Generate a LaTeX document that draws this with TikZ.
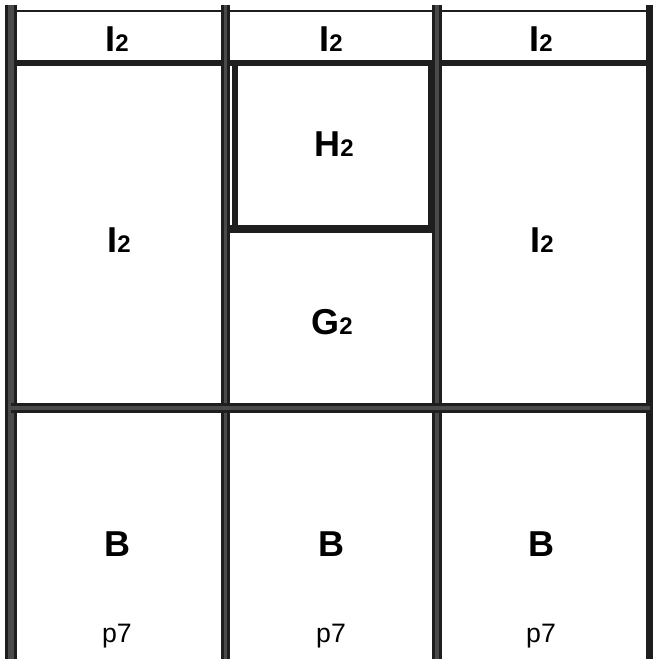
\documentclass[tikz,border=0pt]{standalone}
\usepackage{fontspec}
\setmainfont{Liberation Sans}
\usetikzlibrary{positioning}
\definecolor{bardark}{HTML}{1E1E1E}
\definecolor{barmid}{HTML}{4A4A4A}
\newcommand{\lbl}[2]{#1{\fontsize{18}{18}\selectfont #2}}

\begin{document}
\begin{tikzpicture}[x=0.75pt, y=-0.75pt,
    bar/.style={draw=bardark, line width=#1},
    dbar/.style={draw=bardark, double=barmid, double distance=#1, line width=2.2pt},
    lab/.style={anchor=base, font=\fontsize{27}{27}\selectfont\bfseries},
    foot/.style={anchor=base, font=\fontsize{20}{20}\selectfont}]
  \useasboundingbox (0,0) rectangle (654,659);
  % outer frame and top row
  \draw[bar=2.2pt] (11,11) -- (650,11);
  \draw[bar=3.8pt] (11,63) -- (650,63);
  \draw[dbar=4pt] (11,5) -- (11,659);
  \draw[bar=5.4pt] (649.5,5) -- (649.5,659);
  % columns
  \foreach \x in {225.5,437}
    \draw[dbar=2.6pt] (\x,5) -- (\x,659);
  \draw[dbar=2.4pt] (11,408) -- (650,408);
  % inner box round H2
  \draw[bar=4.5pt] (235,63) -- (235,229) (431,63) -- (431,229);
  \draw[bar=5.6pt] (229,229) -- (434,229);
  % labels
  \foreach \x [count=\i] in {117,331,541} {
    \node[lab] (top\i) at (\x,52) {\lbl{I}{2}};
    \node[lab] (b\i) at (\x,556) {B};
    \node[foot] (p\i) at (\x,642) {p7};
  }
  \node[lab] (left) at (119,252) {\lbl{I}{2}};
  \node[lab] (right) at (542,252) {\lbl{I}{2}};
  \node[lab] (h) at (334,157) {\lbl{H}{2}};
  \node[lab] (g) at (332,334) {\lbl{G}{2}};
\end{tikzpicture}
\end{document}
